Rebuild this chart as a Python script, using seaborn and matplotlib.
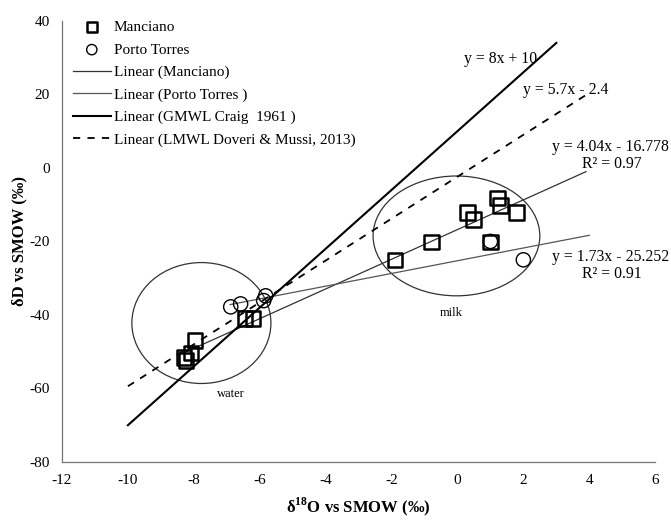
import numpy as np
import pandas as pd
import matplotlib
matplotlib.use("Agg")
import matplotlib.pyplot as plt
from matplotlib.patches import Ellipse
import seaborn as sns

# ---- data ----
manciano_d18o = [-8.24, -8.30, -8.09, -7.97, -6.45, -6.20,
                 -1.90, -0.79, 0.30, 0.48, 1.21, 1.30, 1.79, 1.00]
manciano_dD = [-52.4, -51.6, -50.3, -47.0, -41.0, -41.0,
               -25.0, -20.1, -12.2, -14.1, -8.2, -10.3, -12.2, -20.1]
porto_d18o = [-6.88, -6.58, -5.88, -5.82, 1.00, 2.00]
porto_dD = [-37.8, -37.0, -36.1, -34.8, -20.0, -25.0]

# lines: slope, intercept, x-range
manciano_fit = (4.04, -16.778, -8.3, 3.9)
porto_fit = (1.73, -25.252, -6.9, 4.0)
gmwl = (8.0, 10.0, -10.0, 3.0)
lmwl = (5.7, -2.4, -10.0, 4.0)

x_ticks = [-12, -10, -8, -6, -4, -2, 0, 2, 4, 6]
y_ticks = [-80, -60, -40, -20, 0, 20, 40]

plt.rcParams['font.family'] = ['Liberation Serif', 'DejaVu Serif']
plt.rcParams['axes.unicode_minus'] = False
plt.rcParams['mathtext.fontset'] = 'custom'
plt.rcParams['mathtext.rm'] = 'Liberation Serif'
plt.rcParams['mathtext.bf'] = 'Liberation Serif:bold'

fig = plt.figure(figsize=(6.71, 5.22), dpi=100)
ax = fig.add_axes([0.0924, 0.115, 0.884, 0.845])

def line_df(fit):
    m, b, x0, x1 = fit
    xs = np.array([x0, x1])
    return pd.DataFrame({"x": xs, "y": m * xs + b})

sns.lineplot(data=line_df(manciano_fit), x="x", y="y", ax=ax, color="#333333",
             linewidth=0.9, label="Linear (Manciano)")
sns.lineplot(data=line_df(porto_fit), x="x", y="y", ax=ax, color="#555555",
             linewidth=0.9, label="Linear (Porto Torres )")
sns.lineplot(data=line_df(gmwl), x="x", y="y", ax=ax, color="black",
             linewidth=1.5, label="Linear (GMWL Craig  1961 )")
sns.lineplot(data=line_df(lmwl), x="x", y="y", ax=ax, color="black",
             linewidth=1.3, linestyle=(0, (4, 4)),
             label="Linear (LMWL Doveri & Mussi, 2013)")

sns.scatterplot(x=manciano_d18o, y=manciano_dD, ax=ax, marker="s", s=110,
                facecolor="none", edgecolor="black", linewidth=1.8,
                label="Manciano", zorder=5)
sns.scatterplot(x=porto_d18o, y=porto_dD, ax=ax, marker="o", s=105,
                facecolor="none", edgecolor="black", linewidth=1.0,
                label="Porto Torres", zorder=5)

ax.add_patch(Ellipse((-7.77, -42.2), 4.22, 32.9, fill=False, edgecolor="#333333", linewidth=0.9))
ax.add_patch(Ellipse((-0.03, -18.5), 5.06, 32.6, fill=False, edgecolor="#333333", linewidth=0.9))
ax.text(-6.88, -61.6, "water", fontsize=9, ha="center", va="center")
ax.text(-0.2, -39.4, "milk", fontsize=9, ha="center", va="center")

ax.text(0.2, 29.6, "y = 8x + 10", fontsize=11.3, ha="left", va="center")
ax.text(1.98, 21.2, "y = 5.7x - 2.4", fontsize=11.3, ha="left", va="center")
ax.text(4.65, 5.7, "y = 4.04x - 16.778", fontsize=11.3, ha="center", va="center")
ax.text(4.68, 1.1, "R² = 0.97", fontsize=11.3, ha="center", va="center")
ax.text(4.65, -24.2, "y = 1.73x - 25.252", fontsize=11.3, ha="center", va="center")
ax.text(4.68, -28.8, "R² = 0.91", fontsize=11.3, ha="center", va="center")

ax.set_xlim(-12, 6)
ax.set_ylim(-80, 40)
ax.set_xticks(x_ticks)
ax.set_yticks(y_ticks)
ax.tick_params(length=0, labelsize=11, pad=9)
for s in ["top", "right"]:
    ax.spines[s].set_visible(False)
for s in ["left", "bottom"]:
    ax.spines[s].set_color("#777777")
    ax.spines[s].set_linewidth(0.9)

ax.set_xlabel("δ$^{\\mathbf{18}}$O vs SMOW (‰)", fontsize=12, fontweight="bold", labelpad=6)
ax.set_ylabel("δD vs SMOW (‰)", fontsize=12, fontweight="bold", labelpad=1)

handles, labels = ax.get_legend_handles_labels()
order = [4, 5, 0, 1, 2, 3]
leg = ax.legend([handles[i] for i in order], [labels[i] for i in order],
                loc="upper left", bbox_to_anchor=(0.0, 1.025), frameon=False,
                fontsize=11, handlelength=2.5, handletextpad=0.2,
                labelspacing=0.57, borderaxespad=0.3)
for h in leg.legend_handles[:2]:
    h.set_sizes([55])

fig.savefig("out.png", dpi=100)
